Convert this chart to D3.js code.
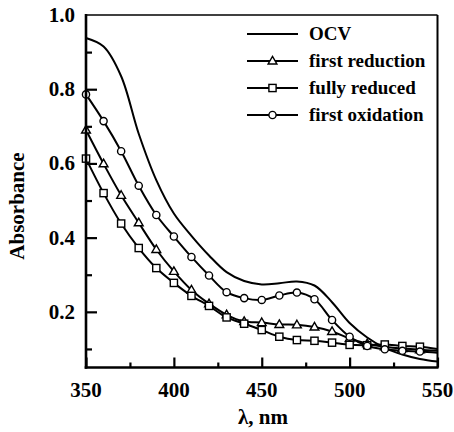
<!DOCTYPE html>
<html>
<head>
<meta charset="utf-8">
<script src="https://cdn.jsdelivr.net/npm/d3@7/dist/d3.min.js"></script>
<style>
  html, body { margin: 0; padding: 0; background: #fff; }
  svg { display: block; }
</style>
</head>
<body>
<svg id="chart" width="454" height="432"></svg>
<script>
// Wavelengths (nm) sampled every 10 nm
const wavelengths = [350, 360, 370, 380, 390, 400, 410, 420, 430, 440, 450,
                     460, 470, 480, 490, 500, 510, 520, 530, 540, 550];

// Absorbance spectra
const ocv = [0.938, 0.915, 0.835, 0.680, 0.555, 0.465, 0.405, 0.352, 0.307, 0.283, 0.274,
             0.277, 0.282, 0.271, 0.226, 0.170, 0.131, 0.103, 0.085, 0.073, 0.066];
const firstReduction = [0.690, 0.599, 0.514, 0.440, 0.368, 0.309, 0.259, 0.222, 0.192, 0.174, 0.171,
                        0.166, 0.165, 0.159, 0.147, 0.128, 0.114, 0.106, 0.101, 0.098, 0.095];
const fullyReduced = [0.613, 0.520, 0.438, 0.372, 0.318, 0.278, 0.243, 0.216, 0.185, 0.168, 0.151,
                      0.133, 0.124, 0.122, 0.117, 0.111, 0.110, 0.112, 0.108, 0.106, 0.100];
const firstOxidation = [0.786, 0.714, 0.633, 0.540, 0.461, 0.403, 0.348, 0.298, 0.253, 0.237, 0.232,
                        0.244, 0.252, 0.234, 0.178, 0.133, 0.108, 0.099, 0.095, 0.093, 0.090];

const seriesNames = ["OCV", "first reduction", "fully reduced", "first oxidation"];
const seriesMarkers = ["none", "triangle", "square", "circle"];

// Axis ticks
const xMajorTicks = [350, 400, 450, 500, 550];
const xMinorTicks = [375, 425, 475, 525];
const yMajorTicks = [0.2, 0.4, 0.6, 0.8, 1.0];
const yMinorTicks = [0.1, 0.3, 0.5, 0.7, 0.9];
const xTitle = "λ, nm";
const yTitle = "Absorbance";

const FONT = "'Liberation Serif', 'Times New Roman', serif";

const svg = d3.select("#chart");
const frame = { left: 86, right: 437.5, top: 15, bottom: 367.5 };

const x = d3.scaleLinear().domain([350, 550]).range([frame.left, frame.right]);
const y = d3.scaleLinear().domain([0.05, 1.0]).range([frame.bottom, frame.top]);

const seriesValues = [ocv, firstReduction, fullyReduced, firstOxidation];
const series = seriesNames.map((name, i) => ({
  name,
  marker: seriesMarkers[i],
  points: wavelengths.map((w, j) => ({ w, a: seriesValues[i][j] }))
}));

const plot = svg.append("g");

const line = d3.line()
  .x(d => x(d.w))
  .y(d => y(d.a))
  .curve(d3.curveCatmullRom.alpha(0.5));

// Spectra lines
plot.selectAll("path.spectrum")
  .data(series)
  .join("path")
  .attr("class", "spectrum")
  .attr("d", d => line(d.points))
  .attr("fill", "none")
  .attr("stroke", "#000")
  .attr("stroke-width", 2);

// Marker drawing
function drawMarker(g, type, cx, cy) {
  if (type === "circle") {
    g.append("circle").attr("cx", cx).attr("cy", cy).attr("r", 3.6);
  } else if (type === "square") {
    g.append("rect").attr("x", cx - 3.6).attr("y", cy - 3.6).attr("width", 7.2).attr("height", 7.2);
  } else if (type === "triangle") {
    g.append("path").attr("d", `M${cx},${cy - 4.6}L${cx + 4.4},${cy + 3}L${cx - 4.4},${cy + 3}Z`);
  }
}

const markerLayer = plot.append("g")
  .attr("fill", "#fff")
  .attr("stroke", "#000")
  .attr("stroke-width", 1.4);

series.forEach(s => {
  if (s.marker === "none") return;
  s.points.filter(p => p.w < 550).forEach(p => drawMarker(markerLayer, s.marker, x(p.w), y(p.a)));
});

// Frame
const axes = svg.append("g").attr("stroke", "#000").attr("fill", "none");
axes.append("line").attr("x1", frame.left).attr("x2", frame.right).attr("y1", frame.top).attr("y2", frame.top).attr("stroke-width", 1.5);
axes.append("line").attr("x1", frame.right).attr("x2", frame.right).attr("y1", frame.top).attr("y2", frame.bottom).attr("stroke-width", 2);
axes.append("line").attr("x1", frame.left).attr("x2", frame.left).attr("y1", frame.top - 1).attr("y2", frame.bottom + 1.2).attr("stroke-width", 2.6);
axes.append("line").attr("x1", frame.left - 1.3).attr("x2", frame.right + 1).attr("y1", frame.bottom).attr("y2", frame.bottom).attr("stroke-width", 2.6);

// Axes with inward ticks
const xAxisMajor = d3.axisTop(x).tickValues(xMajorTicks).tickSize(10).tickFormat("");
const xAxisMinor = d3.axisTop(x).tickValues(xMinorTicks).tickSize(5).tickFormat("");
const yAxisMajor = d3.axisRight(y).tickValues(yMajorTicks.filter(v => v < 1)).tickSize(11).tickFormat("");
const yAxisMinor = d3.axisRight(y).tickValues(yMinorTicks).tickSize(6).tickFormat("");

[xAxisMajor, xAxisMinor].forEach(ax => {
  const g = svg.append("g").attr("transform", `translate(0,${frame.bottom})`).call(ax);
  g.select(".domain").remove();
  g.selectAll(".tick line").attr("stroke", "#000").attr("stroke-width", 2.2);
});
[yAxisMajor, yAxisMinor].forEach(ax => {
  const g = svg.append("g").attr("transform", `translate(${frame.left},0)`).call(ax);
  g.select(".domain").remove();
  g.selectAll(".tick line").attr("stroke", "#000").attr("stroke-width", 2.2);
});

const labels = svg.append("g")
  .attr("font-family", FONT)
  .attr("font-weight", "bold")
  .attr("fill", "#000");

// Tick labels
labels.append("g").selectAll("text")
  .data(xMajorTicks)
  .join("text")
  .attr("x", d => x(d))
  .attr("y", 397)
  .attr("text-anchor", "middle")
  .attr("font-size", 21)
  .text(d => d);

labels.append("g").selectAll("text")
  .data(yMajorTicks)
  .join("text")
  .attr("x", 75)
  .attr("y", d => y(d) + 7)
  .attr("text-anchor", "end")
  .attr("font-size", 21)
  .text(d3.format(".1f"));

// Axis titles
labels.append("text")
  .attr("x", 263)
  .attr("y", 424)
  .attr("text-anchor", "middle")
  .attr("font-size", 21)
  .text(xTitle);

labels.append("text")
  .attr("transform", "translate(24,206) rotate(-90)")
  .attr("text-anchor", "middle")
  .attr("font-size", 21)
  .text(yTitle);

// Legend
const legend = svg.append("g");
const legendRows = [34, 61, 88, 115];
series.forEach((s, i) => {
  const ly = legendRows[i];
  legend.append("line")
    .attr("x1", 247).attr("x2", 298)
    .attr("y1", ly).attr("y2", ly)
    .attr("stroke", "#000").attr("stroke-width", 2);
  const mg = legend.append("g").attr("fill", "#fff").attr("stroke", "#000").attr("stroke-width", 1.4);
  drawMarker(mg, s.marker, 272.5, ly);
  legend.append("text")
    .attr("x", 309)
    .attr("y", ly + 6)
    .attr("font-family", FONT)
    .attr("font-weight", "bold")
    .attr("font-size", 19)
    .text(s.name);
});
</script>
</body>
</html>
